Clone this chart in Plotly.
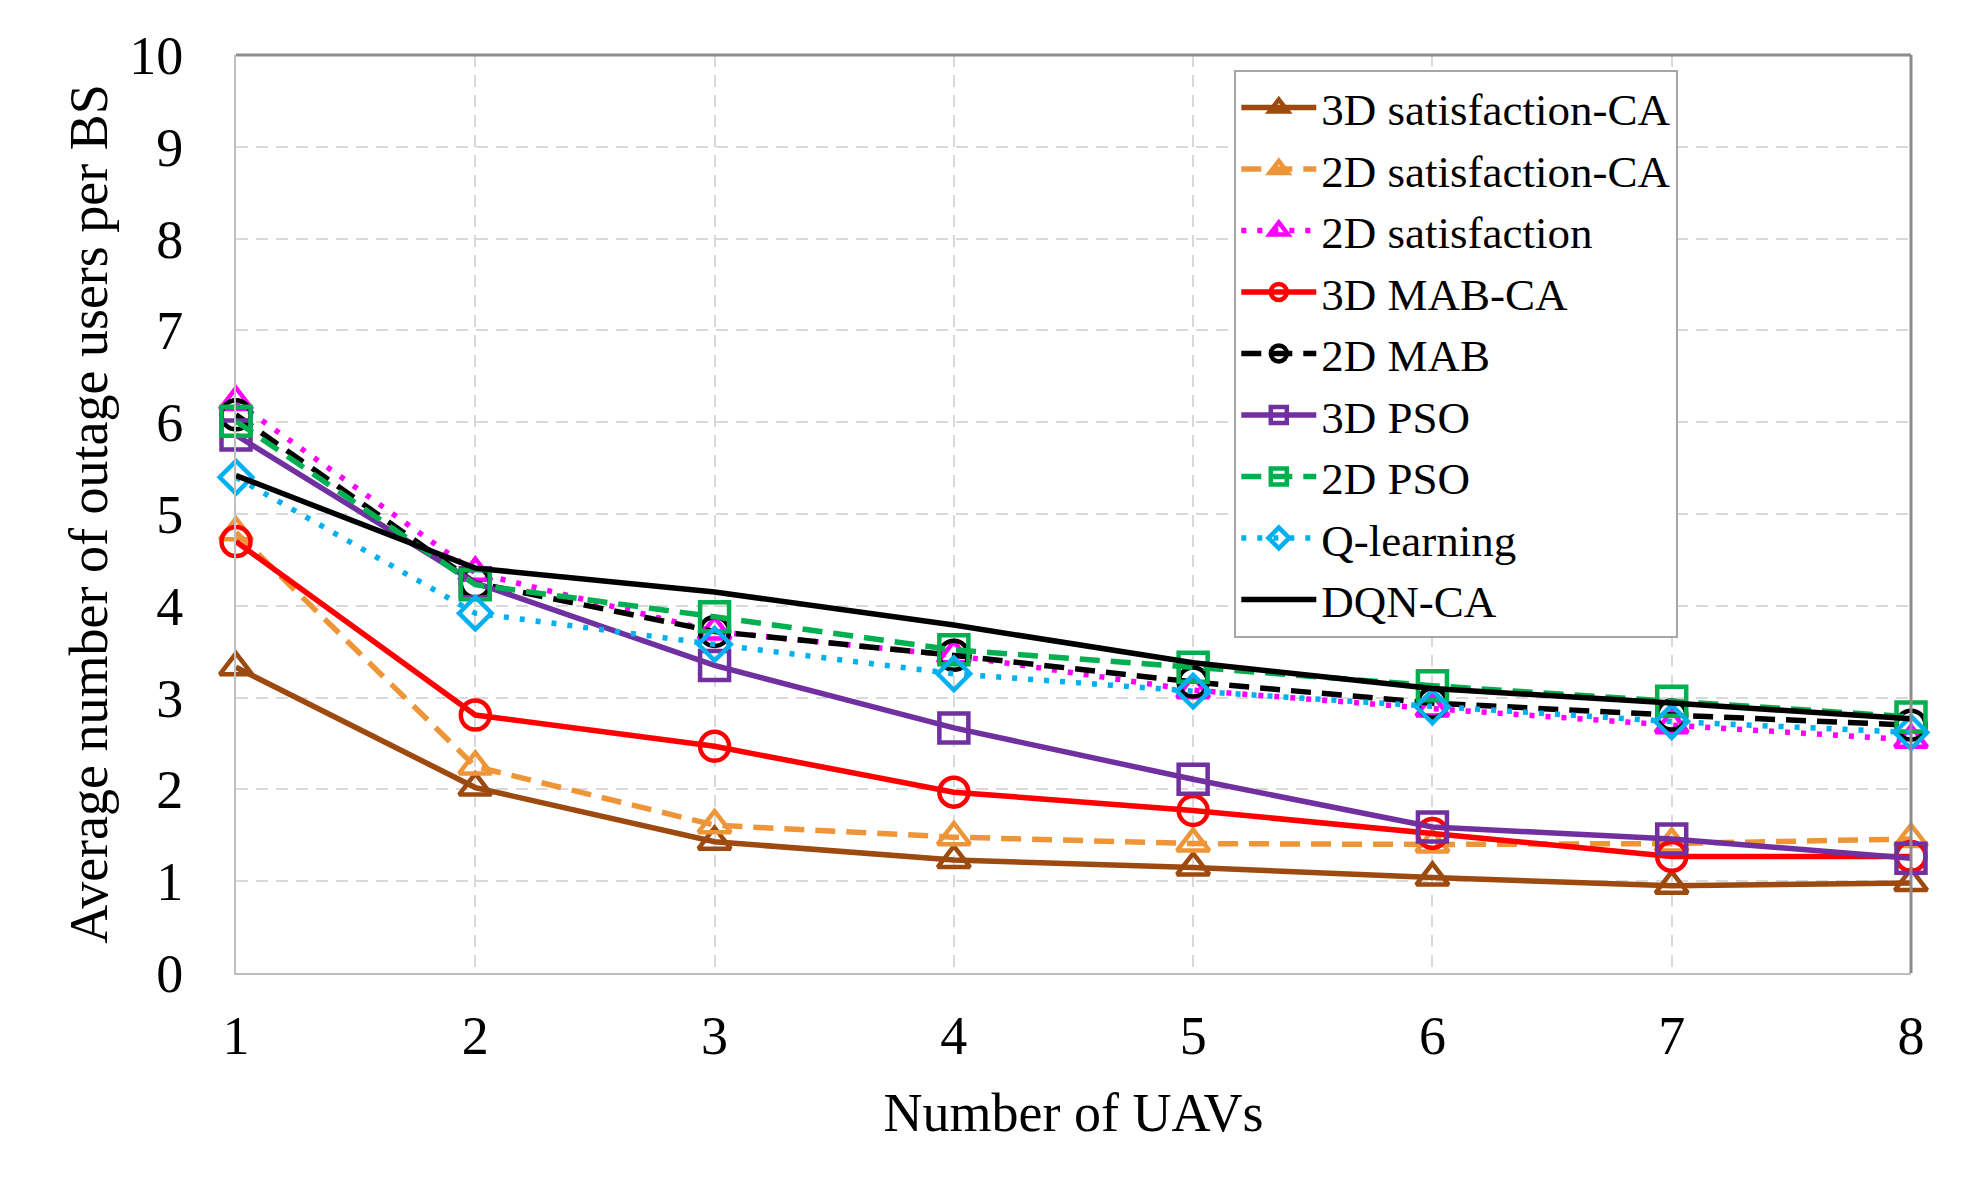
import plotly.graph_objects as go

# number of UAVs
uavs = [1, 2, 3, 4, 5, 6, 7, 8]

# average number of outage users per BS
sat3d_ca = [3.33, 2.02, 1.43, 1.23, 1.15, 1.04, 0.95, 0.98]
sat2d_ca = [4.80, 2.25, 1.61, 1.48, 1.41, 1.40, 1.41, 1.46]
sat2d = [6.22, 4.36, 3.72, 3.46, 3.08, 2.88, 2.70, 2.54]
mab3d_ca = [4.70, 2.81, 2.47, 1.97, 1.77, 1.52, 1.27, 1.27]
mab2d = [6.08, 4.25, 3.72, 3.46, 3.17, 2.94, 2.81, 2.70]
pso3d = [5.86, 4.25, 3.35, 2.67, 2.11, 1.59, 1.46, 1.25]
pso2d = [6.01, 4.23, 3.88, 3.52, 3.33, 3.13, 2.96, 2.79]
qlearn = [5.40, 3.92, 3.58, 3.26, 3.07, 2.90, 2.74, 2.62]
dqn_ca = [5.42, 4.41, 4.15, 3.79, 3.38, 3.10, 2.94, 2.77]

names = ['3D satisfaction-CA', '2D satisfaction-CA', '2D satisfaction', '3D MAB-CA',
         '2D MAB', '3D PSO', '2D PSO', 'Q-learning', 'DQN-CA']
series = [sat3d_ca, sat2d_ca, sat2d, mab3d_ca, mab2d, pso3d, pso2d, qlearn, dqn_ca]

# colour, dash, marker symbol, marker size
styles = [
    ('#9C4A0F', 'solid', 'triangle-up-open', 28),
    ('#EE9538', '20px,11px', 'triangle-up-open', 28),
    ('#FF00FF', '5px,11px', 'triangle-up-open', 28),
    ('#FF0000', 'solid', 'circle-open', 29),
    ('#000000', '20px,11px', 'circle-open', 29),
    ('#7030A0', 'solid', 'square-open', 29),
    ('#00B050', '20px,11px', 'square-open', 29),
    ('#00B0F0', '5px,11px', 'diamond-open', 25),
    ('#000000', 'solid', None, 0),
]

fnt = 'Times New Roman, Liberation Serif, serif'

fig = go.Figure()
for name, ys, (col, dash, sym, sz) in zip(names, series, styles):
    if sym is None:
        fig.add_trace(go.Scatter(x=uavs, y=ys, name=name, mode='lines',
                                 line=dict(color=col, width=5.5, dash=dash),
                                 cliponaxis=False))
    else:
        fig.add_trace(go.Scatter(x=uavs, y=ys, name=name, mode='lines+markers',
                                 line=dict(color=col, width=5.5, dash=dash),
                                 marker=dict(symbol=sym, size=sz, color=col,
                                             line=dict(color=col, width=4.5)),
                                 cliponaxis=False))

fig.update_layout(
    width=1975, height=1201,
    margin=dict(l=236, r=64, t=55, b=228),
    plot_bgcolor='white', paper_bgcolor='white',
    font=dict(family=fnt, size=54, color='black'),
    showlegend=True,
    legend=dict(x=0.596, y=0.984, xanchor='left', yanchor='top',
                bgcolor='white', bordercolor='#A6A6A6', borderwidth=2,
                font=dict(family=fnt, size=45, color='black'),
                itemwidth=75, tracegroupgap=0),
    xaxis=dict(range=[1, 8], tickvals=uavs, showgrid=True, gridcolor='#D9D9D9',
               gridwidth=2, griddash='12px,8px', zeroline=False,
               showline=True, linecolor='#BFBFBF', linewidth=2,
               ticks='', ticklabelstandoff=14,
               tickfont=dict(family=fnt, size=54),
               title=dict(text='Number of UAVs', standoff=28,
                          font=dict(family=fnt, size=54))),
    yaxis=dict(range=[0, 10], dtick=1, showgrid=True, gridcolor='#D9D9D9',
               gridwidth=2, griddash='12px,8px', zeroline=False,
               showline=True, linecolor='#BFBFBF', linewidth=2,
               ticks='', ticklabelstandoff=40,
               tickfont=dict(family=fnt, size=54),
               title=dict(text='Average number of outage users per BS', standoff=4,
                          font=dict(family=fnt, size=54))),
)

# darker top and right border of the plot frame
fig.add_shape(type='line', xref='paper', yref='paper', x0=0, x1=1, y0=1, y1=1,
              line=dict(color='#8C8C8C', width=3))
fig.add_shape(type='line', xref='paper', yref='paper', x0=1, x1=1, y0=0, y1=1,
              line=dict(color='#8C8C8C', width=3))

fig.write_html('out.html', config={'displayModeBar': False},
               post_script="document.body.style.margin='0';")
